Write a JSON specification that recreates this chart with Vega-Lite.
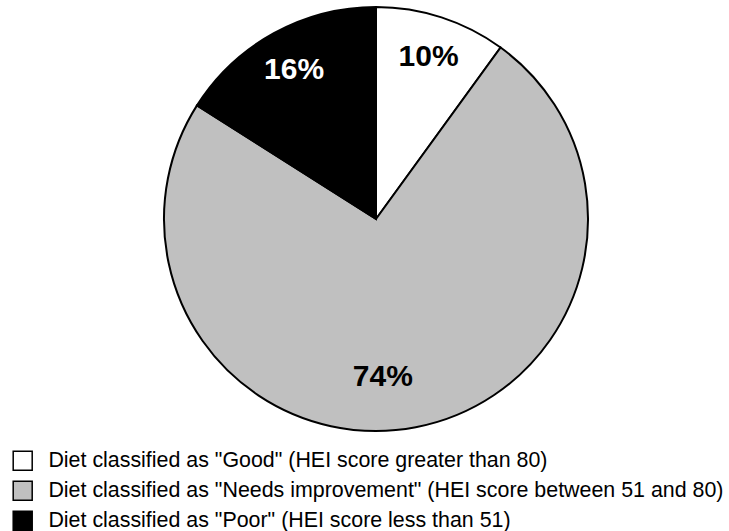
{
  "$schema": "https://vega.github.io/schema/vega-lite/v6.json",
  "width": 438,
  "height": 438,
  "padding": {"left": 157, "top": 0, "right": 134, "bottom": 93},
  "autosize": {"type": "none"},
  "background": "white",
  "config": {"view": {"stroke": null}},
  "data": {
    "values": [
      {"category": "Good", "label": "Diet classified as \"Good\" (HEI score greater than 80)", "share": 0.10, "rank": 1},
      {"category": "Needs", "label": "Diet classified as \"Needs improvement\" (HEI score between 51 and 80)", "share": 0.74, "rank": 2},
      {"category": "Poor", "label": "Diet classified as \"Poor\" (HEI score less than 51)", "share": 0.16, "rank": 3}
    ]
  },
  "encoding": {
    "theta": {"field": "share", "type": "quantitative", "stack": true},
    "order": {"field": "rank", "type": "quantitative"}
  },
  "layer": [
    {
      "mark": {"type": "arc", "radius": 212, "stroke": "black", "strokeWidth": 2},
      "encoding": {
        "color": {
          "field": "label",
          "type": "nominal",
          "sort": null,
          "scale": {
            "domain": [
              "Diet classified as \"Good\" (HEI score greater than 80)",
              "Diet classified as \"Needs improvement\" (HEI score between 51 and 80)",
              "Diet classified as \"Poor\" (HEI score less than 51)"
            ],
            "range": ["#ffffff", "#c0c0c0", "#000000"]
          },
          "legend": {
            "orient": "none",
            "legendX": -145,
            "legendY": 450,
            "title": null,
            "symbolType": "square",
            "symbolSize": 361,
            "symbolStrokeColor": "black",
            "symbolStrokeWidth": 1.5,
            "symbolOpacity": 1,
            "labelFont": "Liberation Sans",
            "labelFontSize": 21.4,
            "labelColor": "black",
            "labelLimit": 1000,
            "labelOffset": 15,
            "rowPadding": 4
          }
        }
      }
    },
    {
      "mark": {"type": "text", "radius": 170, "font": "Liberation Sans", "fontWeight": "bold", "fontSize": 30, "align": "center", "baseline": "middle"},
      "encoding": {
        "text": {"condition": {"test": "datum.category === 'Needs'", "value": ""}, "field": "share", "type": "quantitative", "format": ".0%"},
        "color": {"condition": {"test": "datum.category === 'Poor'", "value": "white"}, "value": "black"}
      }
    },
    {
      "mark": {"type": "text", "radius": 158, "thetaOffset": 0.145, "font": "Liberation Sans", "fontWeight": "bold", "fontSize": 30, "align": "center", "baseline": "middle", "color": "black"},
      "encoding": {
        "text": {"condition": {"test": "datum.category !== 'Needs'", "value": ""}, "field": "share", "type": "quantitative", "format": ".0%"}
      }
    }
  ]
}
